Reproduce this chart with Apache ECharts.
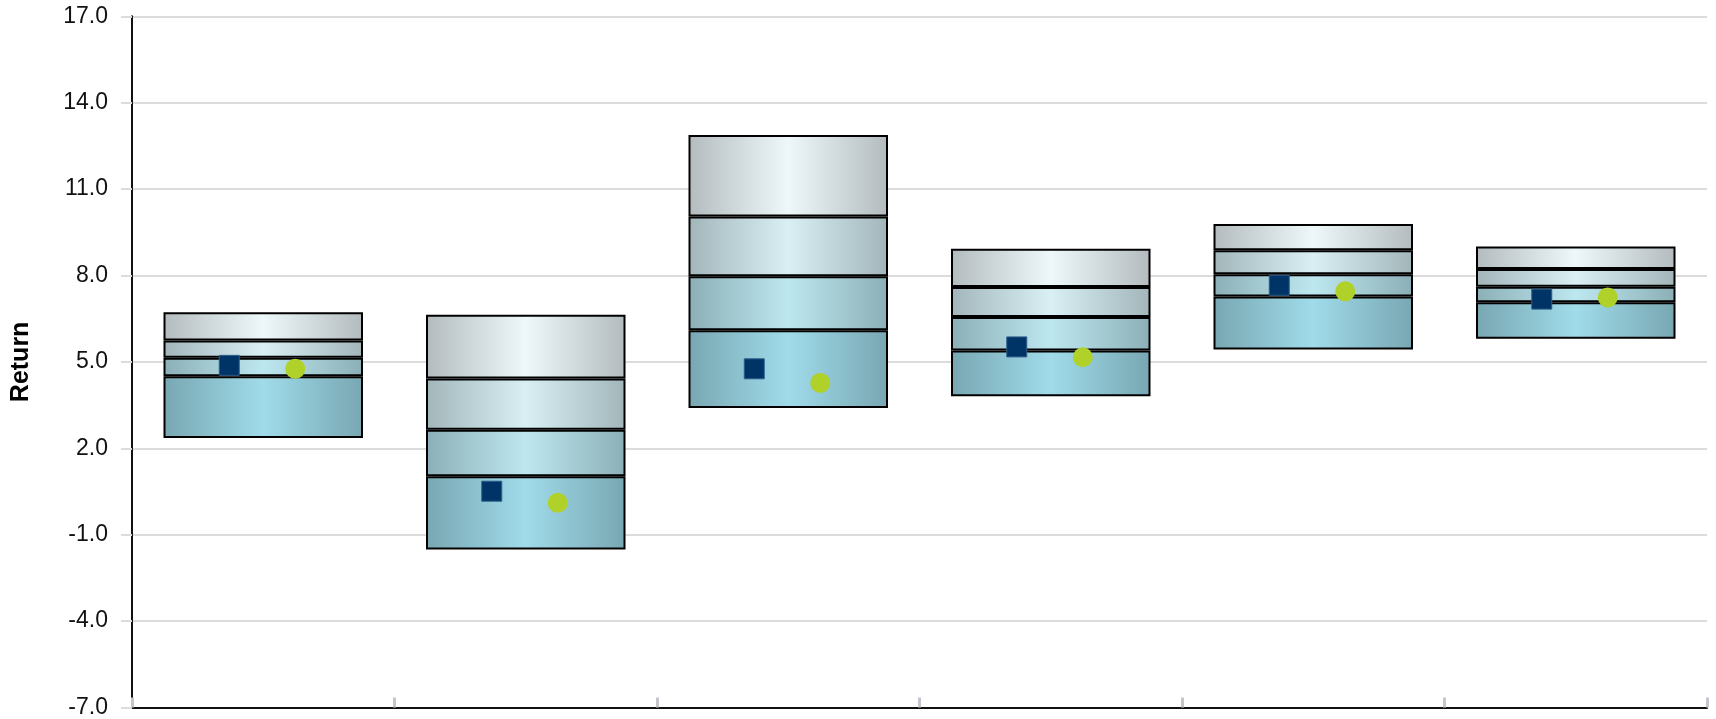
<!DOCTYPE html>
<html>
<head>
<meta charset="utf-8">
<script src="https://cdn.jsdelivr.net/npm/echarts@6/dist/echarts.min.js"></script>
<style>
html,body{margin:0;padding:0;background:#fff;}
#chart{width:1716px;height:719px;}
</style>
</head>
<body>
<div id="chart"></div>
<script>
// Categories (no visible labels in the reference)
const categories = ['A', 'B', 'C', 'D', 'E', 'F'];
// Range boundaries for each floating box (bottom to top)
const p5  = [2.36, -1.51, 3.40, 3.81, 5.43, 5.80];
const p25 = [4.50,  1.03, 6.10, 5.40, 7.27, 7.07];
const p50 = [5.14,  2.64, 7.97, 6.56, 8.04, 7.61];
const p75 = [5.74,  4.42, 10.05, 7.60, 8.88, 8.23];
const p95 = [6.72,  6.64, 12.88, 8.93, 9.79, 9.01];
// Point markers
const squareValues = [4.88, 0.51, 4.76, 5.52, 7.66, 7.18];
const circleValues = [4.76, 0.11, 4.27, 5.16, 7.45, 7.24];
// Y axis ticks
const yMin = -7, yMax = 17, yStep = 3;

const diff = (a, b) => a.map((v, i) => +(v - b[i]).toFixed(4));
const bands = [
  { name: 'band1', data: diff(p25, p5),  edge: '#78a7b2', mid: '#a0dbea' },
  { name: 'band2', data: diff(p50, p25), edge: '#8cafb7', mid: '#bde7ef' },
  { name: 'band3', data: diff(p75, p50), edge: '#a2b6ba', mid: '#d9eff4' },
  { name: 'band4', data: diff(p95, p75), edge: '#b3bbbe', mid: '#eef8fa' }
];

const grad = (edge, mid) => new echarts.graphic.LinearGradient(0, 0, 1, 0, [
  { offset: 0, color: edge },
  { offset: 0.5, color: mid },
  { offset: 1, color: edge }
]);

const series = [{
  type: 'bar', stack: 'box', stackStrategy: 'all', name: 'base',
  data: p5, barWidth: '76%',
  itemStyle: { color: 'transparent', borderWidth: 0 },
  silent: true
}];
bands.forEach(b => series.push({
  type: 'bar', stack: 'box', stackStrategy: 'all', name: b.name,
  data: b.data, barWidth: '76%',
  itemStyle: { color: grad(b.edge, b.mid), borderColor: '#000', borderWidth: 2 }
}));
series.push({
  type: 'scatter', name: 'square', data: squareValues,
  symbol: 'rect', symbolSize: 20, symbolOffset: [-34, 0], z: 5,
  itemStyle: { color: '#003366', borderColor: '#2d5f8a', borderWidth: 1, opacity: 1 }
});
series.push({
  type: 'scatter', name: 'circle', data: circleValues,
  symbol: 'circle', symbolSize: 20, symbolOffset: [32, 0], z: 5,
  itemStyle: { color: '#b0d12a', opacity: 1 }
});

const chart = echarts.init(document.getElementById('chart'));
chart.setOption({
  animation: false,
  backgroundColor: '#fff',
  grid: { left: 132, right: 9, top: 16.3, bottom: 10.7 },
  xAxis: {
    type: 'category', data: categories,
    axisLine: { onZero: false, lineStyle: { color: '#111', width: 2 } },
    axisTick: { show: true, inside: true, length: 10, lineStyle: { color: '#c3c7cb', width: 3 } },
    axisLabel: { show: false },
    splitLine: { show: false }
  },
  yAxis: {
    type: 'value', min: yMin, max: yMax, interval: yStep,
    name: 'Return', nameLocation: 'middle', nameRotate: 90, nameGap: 98,
    nameTextStyle: { fontFamily: 'Liberation Sans, Arial, sans-serif', fontWeight: 'bold', fontSize: 25, color: '#000' },
    axisLine: { show: true, lineStyle: { color: '#111', width: 2 } },
    axisTick: { show: true, length: 11, lineStyle: { color: '#dcdcdc', width: 2 } },
    axisLabel: {
      formatter: v => v.toFixed(1), margin: 24,
      fontFamily: 'Liberation Sans, Arial, sans-serif', fontSize: 23, color: '#111'
    },
    splitLine: { show: true, lineStyle: { color: '#dcdcdc', width: 2 } }
  },
  series: series
});
</script>
</body>
</html>
